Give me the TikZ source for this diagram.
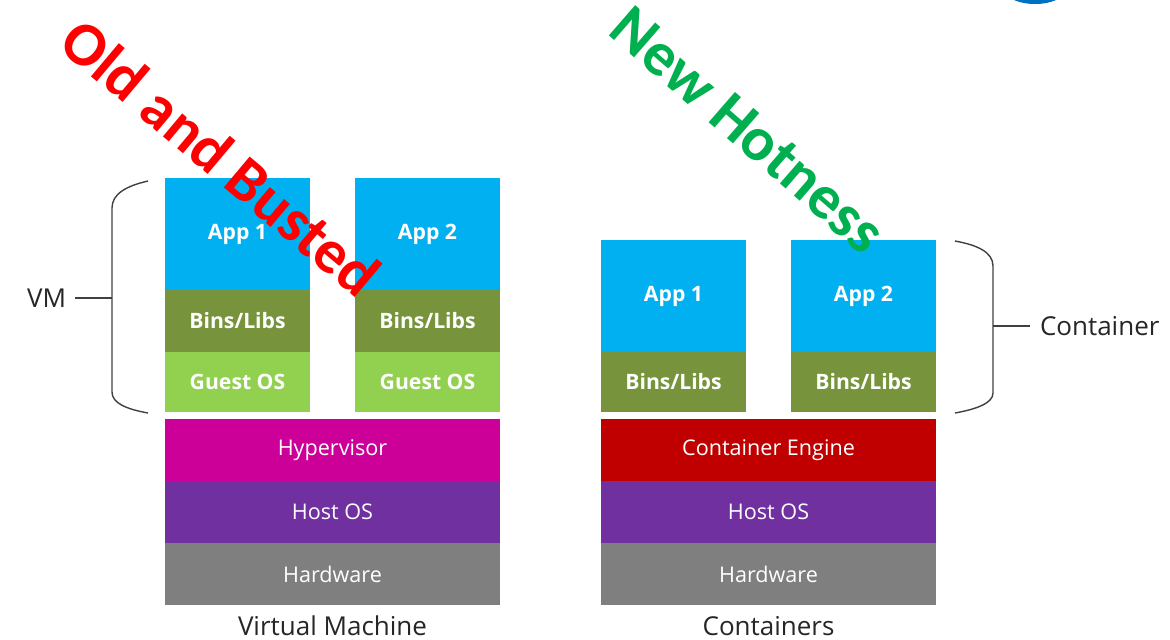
\documentclass[tikz,border=0pt]{standalone}
\usepackage{fontspec}
\setmainfont{Open Sans}
\newfontfamily\shoutfont{Carlito}
\usetikzlibrary{positioning}
\definecolor{appblue}{HTML}{00B0F0}
\definecolor{binsgreen}{HTML}{77933C}
\definecolor{guestgreen}{HTML}{92D050}
\definecolor{hypermag}{HTML}{CC0099}
\definecolor{hostpurple}{HTML}{7030A0}
\definecolor{hwgrey}{HTML}{7F7F7F}
\definecolor{enginered}{HTML}{C00000}
\definecolor{hotgreen}{HTML}{00B050}
\definecolor{logoblue}{HTML}{0070C0}

\begin{document}
\begin{tikzpicture}[x=0.5pt,y=-0.5pt,
    every node/.style={inner sep=0pt,outer sep=0pt},
    layer/.style={rectangle,fill=#1,text=white,font=\fontsize{10.8}{13}\selectfont},
    col/.style={layer=#1,minimum width=72.5pt,font=\fontsize{10.6}{13}\selectfont\bfseries},
    base/.style={layer=#1,minimum width=167.5pt,minimum height=31pt},
    caption/.style={font=\fontsize{13}{15}\selectfont,text=black!85},
    shout/.style={text=#1,font=\shoutfont\fontsize{31}{33}\selectfont\bfseries},
    brace/.style={draw=black!75,line width=0.7pt}]
	\useasboundingbox (0,0) rectangle (1170,639);

	% virtual machine stack
	\node[col=appblue,minimum height=56pt,anchor=north west] (vmapp1) at (165,178) {App 1};
	\node[col=appblue,minimum height=56pt,right=22.5pt of vmapp1] (vmapp2) {App 2};
	\node[col=binsgreen,minimum height=31pt,below=0pt of vmapp1] (vmbins1) {Bins/Libs};
	\node[col=binsgreen,minimum height=31pt,below=0pt of vmapp2] (vmbins2) {Bins/Libs};
	\node[col=guestgreen,minimum height=30pt,below=0pt of vmbins1] (vmguest1) {Guest OS};
	\node[col=guestgreen,minimum height=30pt,below=0pt of vmbins2] (vmguest2) {Guest OS};
	\node[base=hypermag,anchor=north west] (hyper) at ([yshift=-3.5pt]vmguest1.south west) {Hypervisor};
	\node[base=hostpurple,below=0pt of hyper] (vmhost) {Host OS};
	\node[base=hwgrey,below=0pt of vmhost] (vmhw) {Hardware};
	\node[caption] (vmcap) at ([yshift=-10.5pt]vmhw.south) {Virtual Machine};

	% container stack
	\node[col=appblue,minimum height=56pt,anchor=north west] (ctapp1) at (601,240) {App 1};
	\node[col=appblue,minimum height=56pt,right=22.5pt of ctapp1] (ctapp2) {App 2};
	\node[col=binsgreen,minimum height=30pt,below=0pt of ctapp1] (ctbins1) {Bins/Libs};
	\node[col=binsgreen,minimum height=30pt,below=0pt of ctapp2] (ctbins2) {Bins/Libs};
	\node[base=enginered,anchor=north west] (engine) at ([yshift=-3.5pt]ctbins1.south west) {Container Engine};
	\node[base=hostpurple,below=0pt of engine] (cthost) {Host OS};
	\node[base=hwgrey,below=0pt of cthost] (cthw) {Hardware};
	\node[caption] (ctcap) at ([yshift=-10.5pt]cthw.south) {Containers};

	% braces
	\draw[brace] (148,181) .. controls (126,186) and (112,194) .. (112,208) -- (112,392) .. controls (112,403) and (126,409) .. (148,413);
	\draw[brace] (955,241) .. controls (977,245) and (993,252) .. (993,266) -- (993,393) .. controls (993,403) and (977,409) .. (955,413);
	\coordinate (vmtick) at (112,298);
	\coordinate (cttick) at (993,326);
	\node[caption,anchor=east] (vm) at (66,298) {VM};
	\node[caption,anchor=west] (ctr) at (1040,326) {Container};
	\draw[brace] (vmtick) -- ([xshift=4.5pt]vm.east);
	\draw[brace] (cttick) -- ([xshift=-5pt]ctr.west);

	% shouted labels
	\node[shout=red,rotate=-40] (old) at (221,157) {Old and Busted};
	\node[shout=hotgreen,rotate=-41] (new) at (748,130) {New Hotness};

	% cut-off logo
	\fill[logoblue] (1035,-8) ellipse [x radius=28, y radius=12];
\end{tikzpicture}
\end{document}
